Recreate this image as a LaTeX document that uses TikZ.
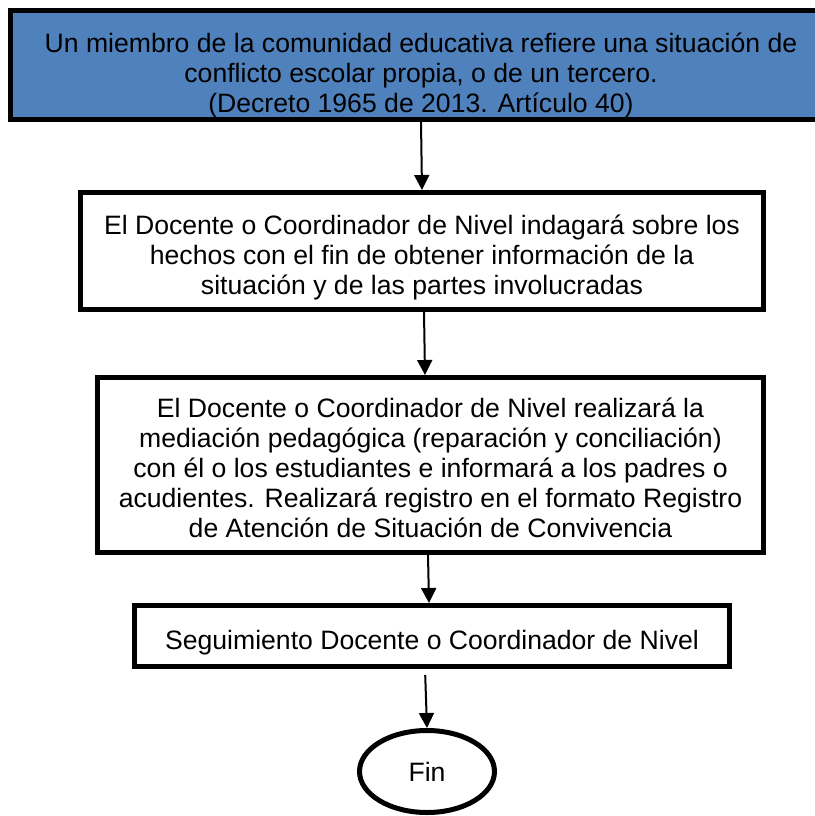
\documentclass[tikz,border=0pt]{standalone}
\usepackage{fontspec}
\setmainfont{Liberation Sans}
\usetikzlibrary{arrows.meta,shapes.geometric}
\definecolor{azul}{HTML}{4F81BD}

\begin{document}
\begin{tikzpicture}[x=0.5pt, y=-0.5pt,
  caja/.style={draw, line width=2.5pt, align=center, inner sep=0pt},
  flecha/.style={-{Triangle[length=7.5pt,width=7.5pt]}, line width=1pt}]

  \fontsize{13.3pt}{15pt}\selectfont
  \newcommand\baja[1]{\rule{0pt}{#1}}

  \useasboundingbox[fill=white] (0,0) rectangle (815,816);

  \node[caja, fill=azul, minimum width=410.5pt, minimum height=54.5pt] (inicio) at (421,65)
  {\baselineskip=14.5pt\baja{20pt}Un miembro de la comunidad educativa refiere una situación de\\
   conflicto escolar propia, o de un tercero.\\
   (Decreto 1965 de 2013. Artículo 40)};
  \node[caja, minimum width=341.5pt, minimum height=58.5pt] (indaga) at (422,251)
  {\baja{16pt}El Docente o Coordinador de Nivel indagará sobre los\\
   hechos con el fin de obtener información de la\\
   situación y de las partes involucradas};
  \node[caja, minimum width=333pt, minimum height=87.5pt] (media) at (430.5,465)
  {\baja{13pt}El Docente o Coordinador de Nivel realizará la\\
   mediación pedagógica (reparación y conciliación)\\
   con él o los estudiantes e informará a los padres o\\
   acudientes. Realizará registro en el formato Registro\\
   de Atención de Situación de Convivencia};
  \node[caja, minimum width=297.5pt, minimum height=30.5pt] (segui) at (432,636)
  {\baja{16pt}Seguimiento Docente o Coordinador de Nivel};
  \node[caja, ellipse, minimum width=67.5pt, minimum height=41pt] (fin) at (427,771.5) {Fin};

  \draw[flecha] (inicio.south -| 421,0) -- (indaga.north -| 422,0); % inicio->indaga
  \draw[flecha] (indaga.south -| 424,0) -- (media.north -| 425,0); % indaga->media
  \draw[flecha] (media.south -| 428,0) -- (segui.north -| 429,0); % media->segui
  \draw[flecha, shorten <=3pt] (segui.south -| 425,0) -- (fin.north -| 427,0); % segui->fin

\end{tikzpicture}
\end{document}
